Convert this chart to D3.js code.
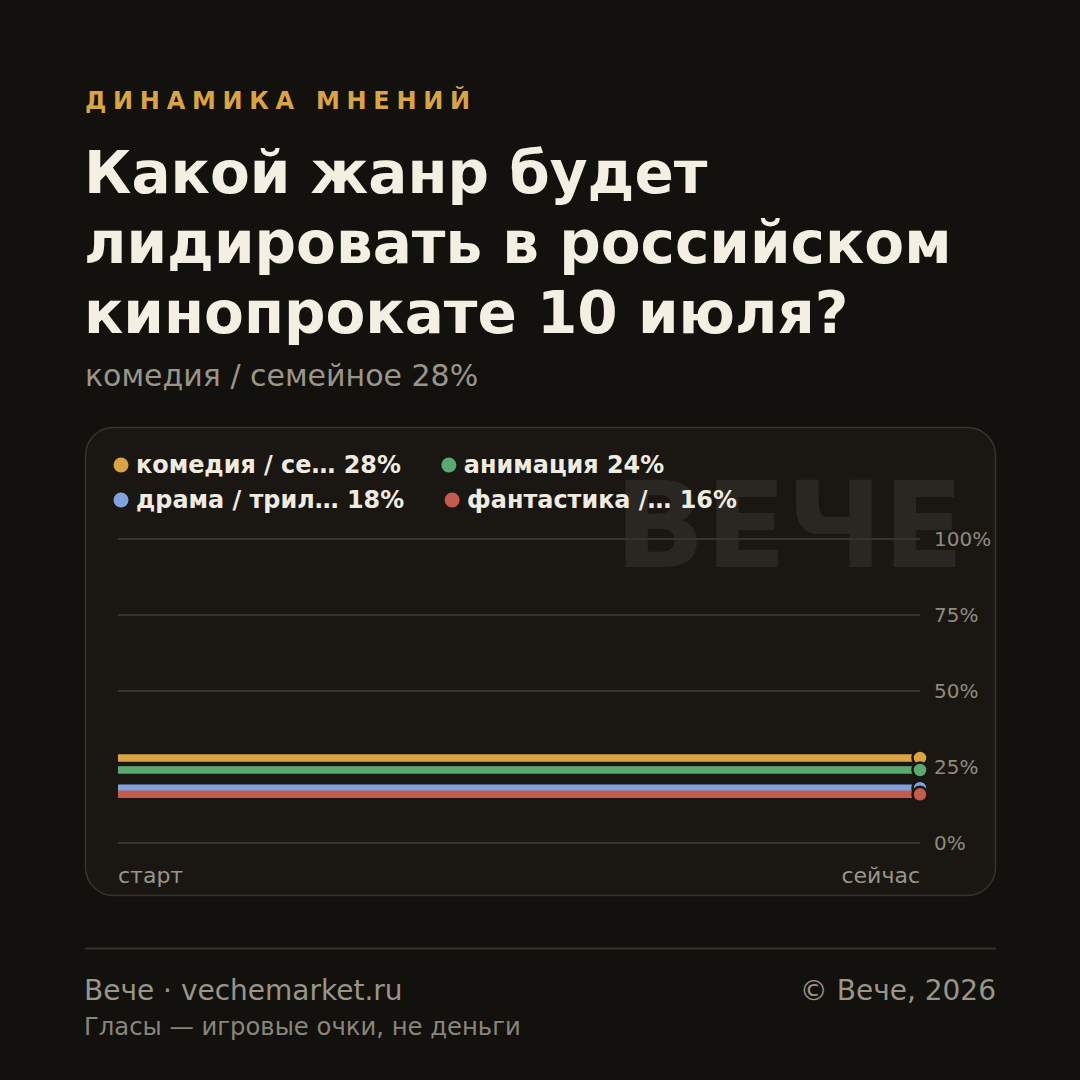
<!DOCTYPE html>
<html>
<head>
<meta charset="utf-8">
<script src="https://cdn.jsdelivr.net/npm/d3@7"></script>
<style>
  html, body { margin: 0; padding: 0; background: #12110e; }
  svg { display: block; font-family: "DejaVu Sans", sans-serif; }
</style>
</head>
<body>
<svg width="1080" height="1080"></svg>
<script>
// data
var seriesNames = ["комедия / се…", "анимация", "драма / трил…", "фантастика /…"];
var seriesColors = ["#d9a441", "#5aa96e", "#7fa3e0", "#c45b4c"];
var timeLabels = ["старт", "сейчас"];
var seriesValues = [
    [28, 28],
    [24, 24],
    [18, 18],
    [16, 16]
];
var yTicks = [0, 25, 50, 75, 100];
var titleLines = ["Какой жанр будет", "лидировать в российском", "кинопрокате 10 июля?"];

var svg = d3.select("svg");

svg.append("rect").attr("width", 1080).attr("height", 1080).attr("fill", "#12110e");

// header
svg.append("text")
    .attr("x", 85).attr("y", 109)
    .attr("fill", "#d9a441")
    .attr("font-size", 24).attr("font-weight", "bold")
    .attr("letter-spacing", 6.7)
    .text("ДИНАМИКА МНЕНИЙ");

svg.selectAll("text.title").data(titleLines).enter().append("text")
    .attr("class", "title")
    .attr("x", 84)
    .attr("y", (d, i) => 193 + i * 70)
    .attr("fill", "#f3efe3")
    .attr("font-size", 58).attr("font-weight", "bold")
    .text(d => d);

svg.append("text")
    .attr("x", 85).attr("y", 386)
    .attr("fill", "#9a958a")
    .attr("font-size", 30)
    .text(seriesNames[0].replace("се…", "семейное") + " " + seriesValues[0][1] + "%");

// card
svg.append("rect")
    .attr("x", 85.5).attr("y", 427.5)
    .attr("width", 910).attr("height", 468)
    .attr("rx", 28)
    .attr("fill", "#1a1713")
    .attr("stroke", "#38342c").attr("stroke-width", 1.5);

// watermark
svg.append("text")
    .attr("x", 964).attr("y", 567)
    .attr("text-anchor", "end")
    .attr("fill", "#2a2722")
    .attr("font-size", 119).attr("font-weight", "bold")
    .text("ВЕЧЕ");

var x = d3.scalePoint().domain(d3.range(timeLabels.length)).range([118, 920]);
var y = d3.scaleLinear().domain([0, 100]).range([843, 539]);

// grid
var grid = svg.append("g");
grid.selectAll("line").data(yTicks).enter().append("line")
    .attr("x1", 118).attr("x2", 920)
    .attr("y1", d => y(d)).attr("y2", d => y(d))
    .attr("stroke", "#38342d").attr("stroke-width", 2);
grid.selectAll("text").data(yTicks).enter().append("text")
    .attr("x", 934).attr("y", d => y(d) + 7)
    .attr("fill", "#8f8a80").attr("font-size", 20)
    .text(d => d + "%");

// x labels
svg.append("text").attr("x", x(0)).attr("y", 883)
    .attr("fill", "#9a958a").attr("font-size", 22).text(timeLabels[0]);
svg.append("text").attr("x", x(timeLabels.length - 1)).attr("y", 883)
    .attr("text-anchor", "end")
    .attr("fill", "#9a958a").attr("font-size", 22).text(timeLabels[timeLabels.length - 1]);

// lines
var line = d3.line().x((d, i) => x(i)).y(d => y(d));
seriesValues.forEach(function (vals, k) {
    svg.append("path")
        .attr("d", line(vals))
        .attr("fill", "none")
        .attr("stroke", seriesColors[k])
        .attr("stroke-width", 7.5);
});
seriesValues.forEach(function (vals, k) {
    var last = vals.length - 1;
    svg.append("circle")
        .attr("cx", x(last)).attr("cy", y(vals[last]))
        .attr("r", 7.5)
        .attr("fill", seriesColors[k])
        .attr("stroke", "#1a1713").attr("stroke-width", 2.5);
});

// legend (two per row, flowing)
var legend = svg.append("g");
for (var row = 0; row < 2; row++) {
    var cx = 121;
    for (var col = 0; col < 2; col++) {
        var k = row * 2 + col;
        var vals = seriesValues[k];
        var ly = 465 + row * 35;
        legend.append("circle")
            .attr("cx", cx).attr("cy", ly).attr("r", 7.5)
            .attr("fill", seriesColors[k]);
        var t = legend.append("text")
            .attr("x", cx + 15).attr("y", ly + 8)
            .attr("fill", "#f0ebe0")
            .attr("font-size", 23.9).attr("font-weight", "bold")
            .text(seriesNames[k] + " " + vals[vals.length - 1] + "%");
        cx = cx + 15 + t.node().getComputedTextLength() + 48;
    }
}

// footer
svg.append("line")
    .attr("x1", 85).attr("x2", 996).attr("y1", 948.5).attr("y2", 948.5)
    .attr("stroke", "#35312a").attr("stroke-width", 2);
svg.append("text").attr("x", 84).attr("y", 1000)
    .attr("fill", "#9a958a").attr("font-size", 28)
    .text("Вече · vechemarket.ru");
svg.append("text").attr("x", 996).attr("y", 1000)
    .attr("text-anchor", "end")
    .attr("fill", "#9a958a").attr("font-size", 28)
    .text("© Вече, 2026");
svg.append("text").attr("x", 84).attr("y", 1035)
    .attr("fill", "#8a857b").attr("font-size", 24.3)
    .text("Гласы — игровые очки, не деньги");
</script>
</body>
</html>
